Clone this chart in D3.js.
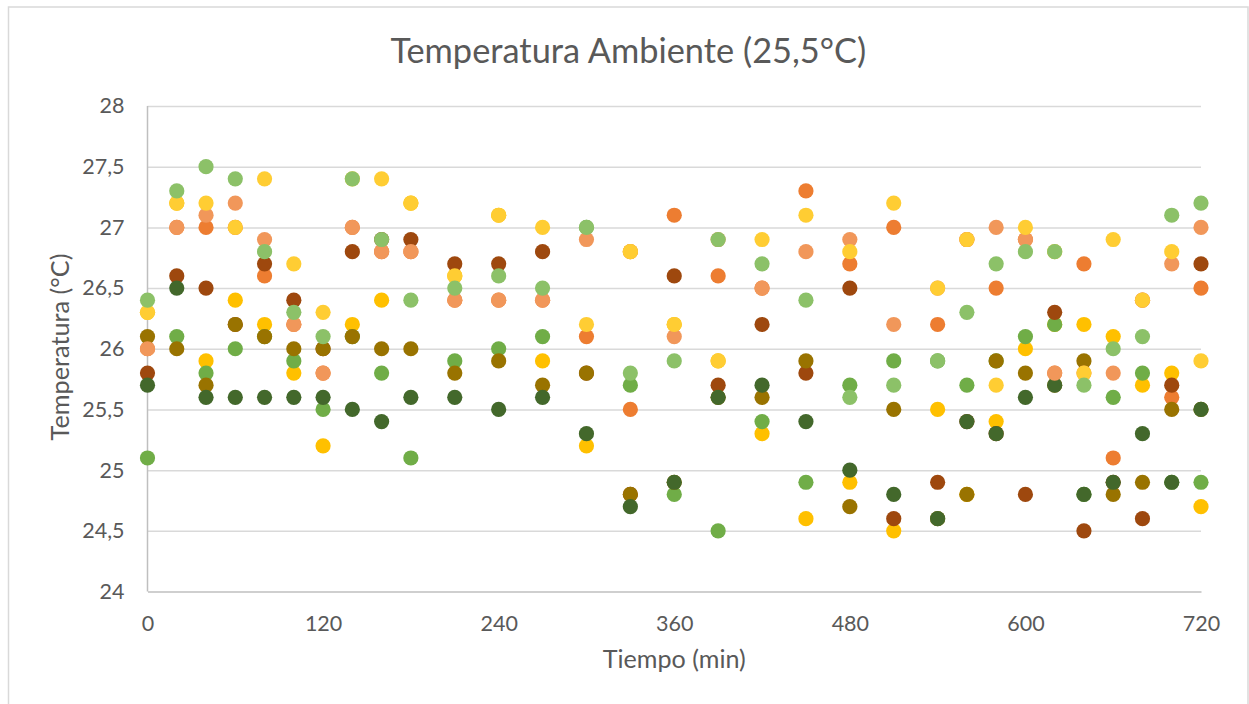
<!DOCTYPE html>
<html>
<head>
<meta charset="utf-8">
<script src="https://cdn.jsdelivr.net/npm/d3@7"></script>
<style>
  html, body { margin: 0; padding: 0; background: #ffffff; }
  svg { display: block; }
  text { font-family: Lato, "Open Sans", sans-serif; fill: #595959; }
</style>
</head>
<body>
<svg id="chart" width="1249" height="704"></svg>
<script>
// Tiempo de muestreo (min)
const tiempos = [0, 20, 40, 60, 80, 100, 120, 140, 160, 180, 210, 240, 270, 300, 330, 360,
                 390, 420, 450, 480, 510, 540, 560, 580, 600, 620, 640, 660, 680, 700, 720];

// Temperatura (°C) registrada por cada serie
const serie1 = [26.0, 27.0, 27.0, 27.0, 26.6, 26.2, 25.8, 27.0, 26.8, 26.8, 26.4, 26.4, 26.4, 26.1, 25.5, 27.1,
                26.6, 26.5, 27.3, 26.7, 27.0, 26.2, 26.9, 26.5, 26.9, 25.8, 26.7, 25.1, 26.4, 25.6, 26.5];
const serie2 = [26.3, 27.2, 25.9, 26.4, 26.2, 25.8, 25.2, 26.2, 26.4, 27.2, 26.6, 27.1, 25.9, 25.2, 26.8, 26.2,
                25.9, 25.3, 24.6, 24.9, 24.5, 25.5, 24.8, 25.4, 26.0, 26.2, 26.2, 26.1, 25.7, 25.8, 24.7];
const serie3 = [25.1, 26.1, 25.8, 26.0, 26.1, 25.9, 25.5, 26.1, 25.8, 25.1, 25.9, 26.0, 26.1, 27.0, 25.7, 24.8,
                24.5, 25.4, 24.9, 25.7, 25.9, 25.9, 25.7, 25.9, 26.1, 26.2, 24.8, 25.6, 25.8, 24.9, 24.9];
const serie4 = [25.8, 26.6, 26.5, 26.2, 26.7, 26.4, 26.0, 26.8, 26.9, 26.9, 26.7, 26.7, 26.8, 25.8, 24.8, 26.6,
                25.7, 26.2, 25.8, 26.5, 24.6, 24.9, 25.4, 25.3, 24.8, 26.3, 24.5, 24.9, 24.6, 25.7, 26.7];
const serie5 = [26.1, 26.0, 25.7, 26.2, 26.1, 26.0, 26.0, 26.1, 26.0, 26.0, 25.8, 25.9, 25.7, 25.8, 24.8, 24.9,
                25.6, 25.6, 25.9, 24.7, 25.5, 24.6, 24.8, 25.9, 25.8, 25.7, 25.9, 24.8, 24.9, 25.5, 25.5];
const serie6 = [25.7, 26.5, 25.6, 25.6, 25.6, 25.6, 25.6, 25.5, 25.4, 25.6, 25.6, 25.5, 25.6, 25.3, 24.7, 24.9,
                25.6, 25.7, 25.4, 25.0, 24.8, 24.6, 25.4, 25.3, 25.6, 25.7, 24.8, 24.9, 25.3, 24.9, 25.5];
const serie7 = [26.0, 27.0, 27.1, 27.2, 26.9, 26.2, 25.8, 27.0, 26.8, 26.8, 26.4, 26.4, 26.4, 26.9, 26.8, 26.1,
                26.9, 26.5, 26.8, 26.9, 26.2, 26.5, 26.9, 27.0, 26.9, 25.8, 25.8, 25.8, 26.4, 26.7, 27.0];
const serie8 = [26.3, 27.2, 27.2, 27.0, 27.4, 26.7, 26.3, 27.4, 27.4, 27.2, 26.6, 27.1, 27.0, 26.2, 26.8, 26.2,
                25.9, 26.9, 27.1, 26.8, 27.2, 26.5, 26.9, 25.7, 27.0, 26.8, 25.8, 26.9, 26.4, 26.8, 25.9];
const serie9 = [26.4, 27.3, 27.5, 27.4, 26.8, 26.3, 26.1, 27.4, 26.9, 26.4, 26.5, 26.6, 26.5, 27.0, 25.8, 25.9,
                26.9, 26.7, 26.4, 25.6, 25.7, 25.9, 26.3, 26.7, 26.8, 26.8, 25.7, 26.0, 26.1, 27.1, 27.2];

const series = [serie1, serie2, serie3, serie4, serie5, serie6, serie7, serie8, serie9];
const colores = ["#ED7D31", "#FFC000", "#70AD47", "#9E480E", "#997300", "#43682B",
                 "#F1975A", "#FFCD33", "#8CC168"];

const ticksX = [0, 120, 240, 360, 480, 600, 720];
const ticksY = [24, 24.5, 25, 25.5, 26, 26.5, 27, 27.5, 28];

const titulo = "Temperatura Ambiente (25,5°C)";
const tituloX = "Tiempo (min)";
const tituloY = "Temperatura (°C)";

const plot = { left: 147.5, right: 1201, top: 106, bottom: 591.5 };

const svg = d3.select("#chart");

// Marco del gráfico
svg.append("rect")
  .attr("x", 8.5).attr("y", 7)
  .attr("width", 1239.5).attr("height", 710)
  .attr("fill", "#ffffff")
  .attr("stroke", "#d9d9d9").attr("stroke-width", 1.5);

const x = d3.scaleLinear().domain([0, 720]).range([plot.left, plot.right]);
const y = d3.scaleLinear().domain([24, 28]).range([plot.bottom, plot.top]);

const fmt = v => String(v).replace(".", ",");

// Líneas de división horizontales + etiquetas del eje Y
const gy = svg.append("g")
  .attr("transform", `translate(${plot.left},0)`)
  .call(d3.axisLeft(y)
    .tickValues(ticksY)
    .tickFormat(fmt)
    .tickSizeInner(-(plot.right - plot.left))
    .tickSizeOuter(0)
    .tickPadding(23));
gy.select(".domain").remove();
gy.selectAll(".tick line")
  .attr("stroke", d => d === 24 ? "none" : "#d9d9d9")
  .attr("stroke-width", 1.5);
gy.selectAll(".tick text")
  .attr("font-size", 21.5)
  .attr("font-family", "Lato, 'Open Sans', sans-serif")
  .attr("fill", "#595959");

// Eje X
const gx = svg.append("g")
  .attr("transform", `translate(0,${plot.bottom})`)
  .call(d3.axisBottom(x)
    .tickValues(ticksX)
    .tickFormat(d3.format("d"))
    .tickSize(0)
    .tickPadding(0));
gx.select(".domain").attr("stroke", "#bfbfbf").attr("stroke-width", 1.5);
gx.selectAll(".tick text")
  .attr("y", 39.5).attr("dy", null)
  .attr("font-size", 21.5)
  .attr("font-family", "Lato, 'Open Sans', sans-serif")
  .attr("fill", "#595959");

// Línea del eje Y
svg.append("line")
  .attr("x1", plot.left).attr("x2", plot.left)
  .attr("y1", y(28)).attr("y2", y(24))
  .attr("stroke", "#bfbfbf").attr("stroke-width", 1.5);

// Puntos de cada serie
series.forEach((vals, i) => {
  svg.append("g")
    .selectAll("circle")
    .data(vals.map((v, j) => ({ t: tiempos[j], v })))
    .join("circle")
    .attr("cx", d => x(d.t))
    .attr("cy", d => y(d.v))
    .attr("r", 7.6)
    .attr("fill", colores[i]);
});

// Ajusta el tamaño de letra para ocupar un ancho dado
function ajustar(sel, ancho, base) {
  sel.attr("font-size", base);
  const w = sel.node().getComputedTextLength();
  sel.attr("font-size", base * ancho / w);
}

const t = svg.append("text")
  .attr("x", (8.5 + 1248) / 2).attr("y", 63)
  .attr("text-anchor", "middle")
  .text(titulo);
ajustar(t, 476, 32);

const tx = svg.append("text")
  .attr("x", (plot.left + plot.right) / 2).attr("y", 668)
  .attr("text-anchor", "middle")
  .text(tituloX);
ajustar(tx, 143, 24);

const ty = svg.append("text")
  .attr("transform", `translate(69,347) rotate(-90)`)
  .attr("text-anchor", "middle")
  .text(tituloY);
ajustar(ty, 187, 24);
</script>
</body>
</html>
